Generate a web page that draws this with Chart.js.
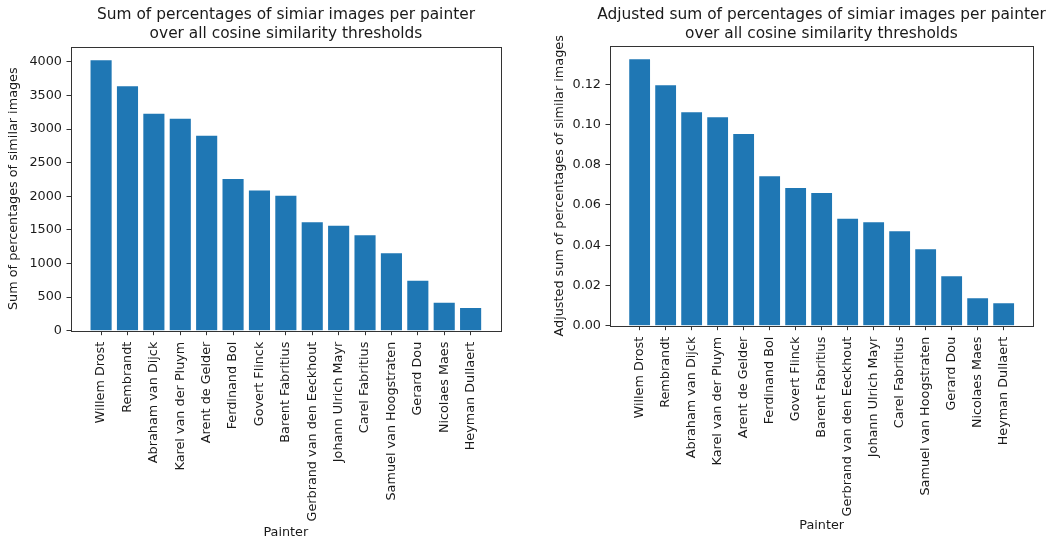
<!DOCTYPE html>
<html>
<head>
<meta charset="utf-8">
<script src="https://cdn.jsdelivr.net/npm/chart.js@4.4.1/dist/chart.umd.min.js"></script>
<style>
  html, body { margin: 0; padding: 0; background: #ffffff; overflow: hidden; width: 1060px; height: 541px; }
  canvas { position: absolute; top: 0; }
  #c1 { left: 0px; }
  #c2 { left: 540px; }
</style>
</head>
<body>
<canvas id="c1" width="572" height="541"></canvas>
<canvas id="c2" width="563" height="541"></canvas>
<script>
// ---- data ----
const painters = [
  "Willem Drost", "Rembrandt", "Abraham van Dijck", "Karel van der Pluym",
  "Arent de Gelder", "Ferdinand Bol", "Govert Flinck", "Barent Fabritius",
  "Gerbrand van den Eeckhout", "Johann Ulrich Mayr", "Carel Fabritius",
  "Samuel van Hoogstraten", "Gerard Dou", "Nicolaes Maes", "Heyman Dullaert"
];
const sumValues = [4025, 3636, 3229, 3155, 2901, 2256, 2086, 2007, 1615, 1560, 1421, 1153, 745, 417, 338];
const adjustedValues = [0.1324, 0.1195, 0.1061, 0.1036, 0.0953, 0.0743, 0.0684, 0.0660, 0.0532, 0.0514, 0.0469, 0.0380, 0.0246, 0.0136, 0.0111];
const sumTicks = [0, 500, 1000, 1500, 2000, 2500, 3000, 3500, 4000];
const adjustedTicks = [0.00, 0.02, 0.04, 0.06, 0.08, 0.10, 0.12];
const leftTitle = ["Sum of percentages of simiar images per painter", "over all cosine similarity thresholds"];
const rightTitle = ["Adjusted sum of percentages of simiar images per painter", "over all cosine similarity thresholds"];
const leftYLabel = "Sum of percentages of similar images";
const rightYLabel = "Adjusted sum of percentages of similar images";
const xLabel = "Painter";

// ---- style ----
const FONT = "'DejaVu Sans', sans-serif";
const TEXT = "#1a1a1a";
const AXIS = "#333333";
const BAR = "#1f77b4";

Chart.defaults.font.family = FONT;
Chart.defaults.color = TEXT;

const boxPlugin = {
  id: 'box',
  afterDraw(chart) {
    const a = chart.chartArea, ctx = chart.ctx;
    ctx.save();
    ctx.strokeStyle = AXIS;
    ctx.lineWidth = 1;
    const l = Math.round(a.left) + 0.5, t = Math.round(a.top) + 0.5;
    const r = Math.round(a.right) + 0.5, b = Math.round(a.bottom) + 0.5;
    ctx.strokeRect(l, t, r - l, b - t);
    ctx.restore();
  }
};

function makeChart(id, values, tickVals, title, yLabel, opts) {
  const n = values.length;
  const span = (n - 1) + 0.8;
  const xmin = -0.4 - 0.05 * span;
  const xmax = (n - 1) + 0.4 + 0.05 * span;
  const ymax = Math.max(...values) * 1.05;
  return new Chart(document.getElementById(id), {
    type: 'bar',
    data: {
      datasets: [{
        data: values.map((v, i) => ({ x: i, y: v })),
        backgroundColor: BAR,
        borderWidth: 0,
        barPercentage: 0.8,
        categoryPercentage: 1.0
      }]
    },
    plugins: [boxPlugin],
    options: {
      responsive: false,
      animation: false,
      devicePixelRatio: 1,
      layout: { padding: 0 },
      plugins: {
        legend: { display: false },
        tooltip: { enabled: false },
        title: {
          display: true,
          text: title,
          color: TEXT,
          font: { family: FONT, size: 15.4, weight: 'normal', lineHeight: 1.2 },
          padding: { top: 5.8, bottom: opts.titleBottom }
        }
      },
      scales: {
        x: {
          type: 'linear',
          min: xmin,
          max: xmax,
          offset: false,
          afterBuildTicks: (scale) => { scale.ticks = painters.map((_, i) => ({ value: i })); },
          afterFit: (scale) => { scale.height = opts.xHeight; },
          ticks: {
            autoSkip: false,
            minRotation: 90,
            maxRotation: 90,
            padding: 6.5,
            color: TEXT,
            font: { family: FONT, size: 12.8 },
            callback: (v) => painters[v]
          },
          grid: { display: true, drawOnChartArea: false, drawTicks: true, tickLength: 4.5, tickColor: AXIS, offset: false },
          border: { display: false },
          title: {
            display: true, text: xLabel, color: TEXT,
            font: { family: FONT, size: 12.8, lineHeight: 1.2 },
            padding: { top: 0, bottom: opts.xTitleBottom }
          }
        },
        y: {
          type: 'linear',
          position: 'left',
          min: 0,
          max: ymax,
          afterBuildTicks: (scale) => { scale.ticks = tickVals.map((v) => ({ value: v })); },
          afterFit: (scale) => { scale.width = opts.yWidth; },
          ticks: {
            padding: 4.5,
            color: TEXT,
            font: { family: FONT, size: 12.8 },
            callback: opts.fmt
          },
          grid: { display: true, drawOnChartArea: false, drawTicks: true, tickLength: 4.5, tickColor: AXIS },
          border: { display: false },
          title: {
            display: true, text: yLabel, color: TEXT,
            font: { family: FONT, size: 12.8, lineHeight: 1.2 },
            padding: { top: opts.yTitleTop, bottom: 0 }
          }
        },
        yRightSpace: {
          type: 'linear',
          position: 'right',
          display: true,
          afterFit: (scale) => { scale.width = opts.padRight; },
          ticks: { display: false },
          grid: { display: false },
          border: { display: false }
        }
      }
    }
  });
}

makeChart('c1', sumValues, sumTicks, leftTitle, leftYLabel, {
  padRight: 71.3, titleBottom: 3.9, xHeight: 210.3, xTitleBottom: 0.3,
  yWidth: 71, yTitleTop: 6.3, fmt: (v) => String(Math.round(v))
});
makeChart('c2', adjustedValues, adjustedTicks, rightTitle, rightYLabel, {
  padRight: 69.7, titleBottom: 3.2, xHeight: 215.3, xTitleBottom: 7.3,
  yWidth: 70, yTitleTop: 11.6, fmt: (v) => v.toFixed(2)
});
</script>
</body>
</html>
